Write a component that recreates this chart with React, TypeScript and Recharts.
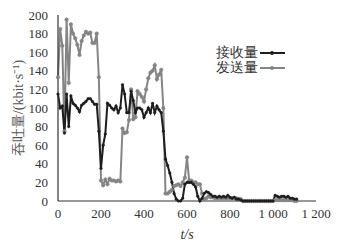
import { LineChart, Line, XAxis, YAxis } from "recharts";

const times = [
  0, 10, 20, 30, 40, 50, 60, 70, 80, 90,
  100, 110, 120, 130, 140, 150, 160, 170, 180, 190,
  200, 210, 220, 230, 240, 250, 260, 270, 280, 290,
  300, 310, 320, 330, 340, 350, 360, 370, 380, 390,
  400, 410, 420, 430, 440, 450, 460, 470, 480, 490,
  500, 510, 520, 530, 540, 550, 560, 570, 580, 590,
  600, 610, 620, 630, 640, 650, 660, 670, 680, 690,
  700, 710, 720, 730, 740, 750, 760, 770, 780, 790,
  800, 810, 820, 830, 840, 850, 860, 870, 880, 890,
  900, 910, 920, 930, 940, 950, 960, 970, 980, 990,
  1000, 1010, 1020, 1030, 1040, 1050, 1060, 1070, 1080, 1090,
  1100, 1110,
];

// 接收量
const received = [
  115, 100, 102, 73, 115, 80, 113, 105, 103, 100,
  96, 103, 105, 107, 110, 110, 107, 104, 104, 75,
  35, 60, 72, 105, 103, 100, 98, 102, 95, 100,
  125, 115, 95, 95, 118, 108, 95, 100, 100, 98,
  90, 95, 100, 95, 105, 95, 102, 98, 95, 75,
  45, 38, 30, 20, 8, 2, 0, 0, 3, 18,
  20, 20, 20, 18, 15, 5, 0, 3, 8, 10,
  9, 7, 5, 5, 4, 5, 4, 5, 4, 6,
  4, 3, 4, 2, 2, 1, 0, 0, 0, 0,
  0, 0, 0, 0, 0, 0, 0, 0, 0, 0,
  0, 6, 5, 4, 5, 5, 4, 5, 3, 3,
  2, 2,
];

// 发送量
const sent = [
  133, 185, 167, 75, 195, 127, 190, 180, 175, 168,
  157, 172, 178, 182, 180, 181, 170, 170, 180, 133,
  22, 17, 23, 18, 24, 22, 22, 21, 22, 21,
  78, 73, 74, 87, 120, 88, 90, 118, 115, 112,
  107, 120, 132, 138, 140, 146, 131, 136, 141, 100,
  8, 8, 10, 12, 16, 17, 18, 16, 20, 25,
  47, 22, 22, 20, 20, 18, 18, 8, 2, 3,
  5, 4, 4, 3, 3, 3, 3, 3, 3, 3,
  3, 3, 3, 3, 2, 2, 0, 0, 0, 0,
  0, 0, 0, 0, 0, 0, 0, 0, 0, 0,
  0, 1, 1, 1, 1, 1, 1, 1, 1, 1,
  0, 0,
];

const xTicks = [0, 200, 400, 600, 800, 1000, 1200];
const yTicks = [0, 20, 40, 60, 80, 100, 120, 140, 160, 180, 200];
const seriesNames = ["接收量", "发送量"];

const data = times.map((t, i) => ({ t, recv: received[i], sent: sent[i] }));

const font = "Liberation Serif, serif";
const RECV = "#1e1e1e";
const SENT = "#858585";

const fmtX = (v: number) => (v >= 1000 ? `${Math.floor(v / 1000)} ${String(v % 1000).padStart(3, "0")}` : String(v));

function LegendBox() {
  const items = [
    { name: seriesNames[0], color: RECV },
    { name: seriesNames[1], color: SENT },
  ];
  return (
    <div style={{ position: "absolute", left: 216, top: 45, fontSize: 14, lineHeight: "15px", color: "#333" }}>
      {items.map((it) => (
        <div key={it.name} style={{ display: "flex", alignItems: "center" }}>
          <span>{it.name}</span>
          <svg width={28} height={10} style={{ marginLeft: 1 }}>
            <line x1={1} y1={5} x2={26} y2={5} stroke={it.color} strokeWidth={2} />
            <circle cx={13} cy={5} r={2} fill={it.color} />
          </svg>
        </div>
      ))}
    </div>
  );
}

export default function App() {
  return (
    <div style={{ position: "absolute", left: 0, top: 0, width: 339, height: 243, background: "#fff", fontFamily: font }}>
      <LineChart width={339} height={243} data={data} margin={{ top: 15, right: 23, left: 0, bottom: 0 }} style={{ fontFamily: font }}>
        <XAxis
          dataKey="t"
          type="number"
          domain={[0, 1200]}
          ticks={xTicks}
          tickFormatter={fmtX}
          interval={0}
          height={42}
          tickLine={false}
          axisLine={{ stroke: "#333", strokeWidth: 1.2 }}
          tick={{ fontSize: 13, fill: "#333", fontFamily: font }}
          tickMargin={2}
          label={{ value: "t/s", position: "insideBottom", offset: 4, fontSize: 14, fontStyle: "italic", fill: "#333", fontFamily: font }}
        />
        <XAxis xAxisId="top" orientation="top" dataKey="t" type="number" domain={[0, 1200]} tick={false} tickLine={false} height={0} axisLine={{ stroke: "#888" }} />
        <YAxis
          domain={[0, 200]}
          ticks={yTicks}
          interval={0}
          width={58}
          tickLine={false}
          axisLine={{ stroke: "#333", strokeWidth: 1.2 }}
          tick={{ fontSize: 13, fill: "#333", fontFamily: font }}
          tickMargin={4}
          label={{ value: "吞吐量/(kbit·s⁻¹)", angle: -90, position: "insideLeft", offset: 18, fontSize: 14, fill: "#555", fontFamily: font, style: { textAnchor: "middle" } }}
        />
        <YAxis yAxisId="right" orientation="right" domain={[0, 200]} tick={false} tickLine={false} width={0} axisLine={{ stroke: "#888" }} />
        <Line dataKey="sent" stroke={SENT} strokeWidth={2} dot={{ r: 1.8, fill: SENT, stroke: SENT, strokeWidth: 0.5 }} isAnimationActive={false} />
        <Line dataKey="recv" stroke={RECV} strokeWidth={2} dot={{ r: 1.3, fill: RECV, stroke: RECV, strokeWidth: 0.5 }} isAnimationActive={false} />
      </LineChart>
      <LegendBox />
    </div>
  );
}
